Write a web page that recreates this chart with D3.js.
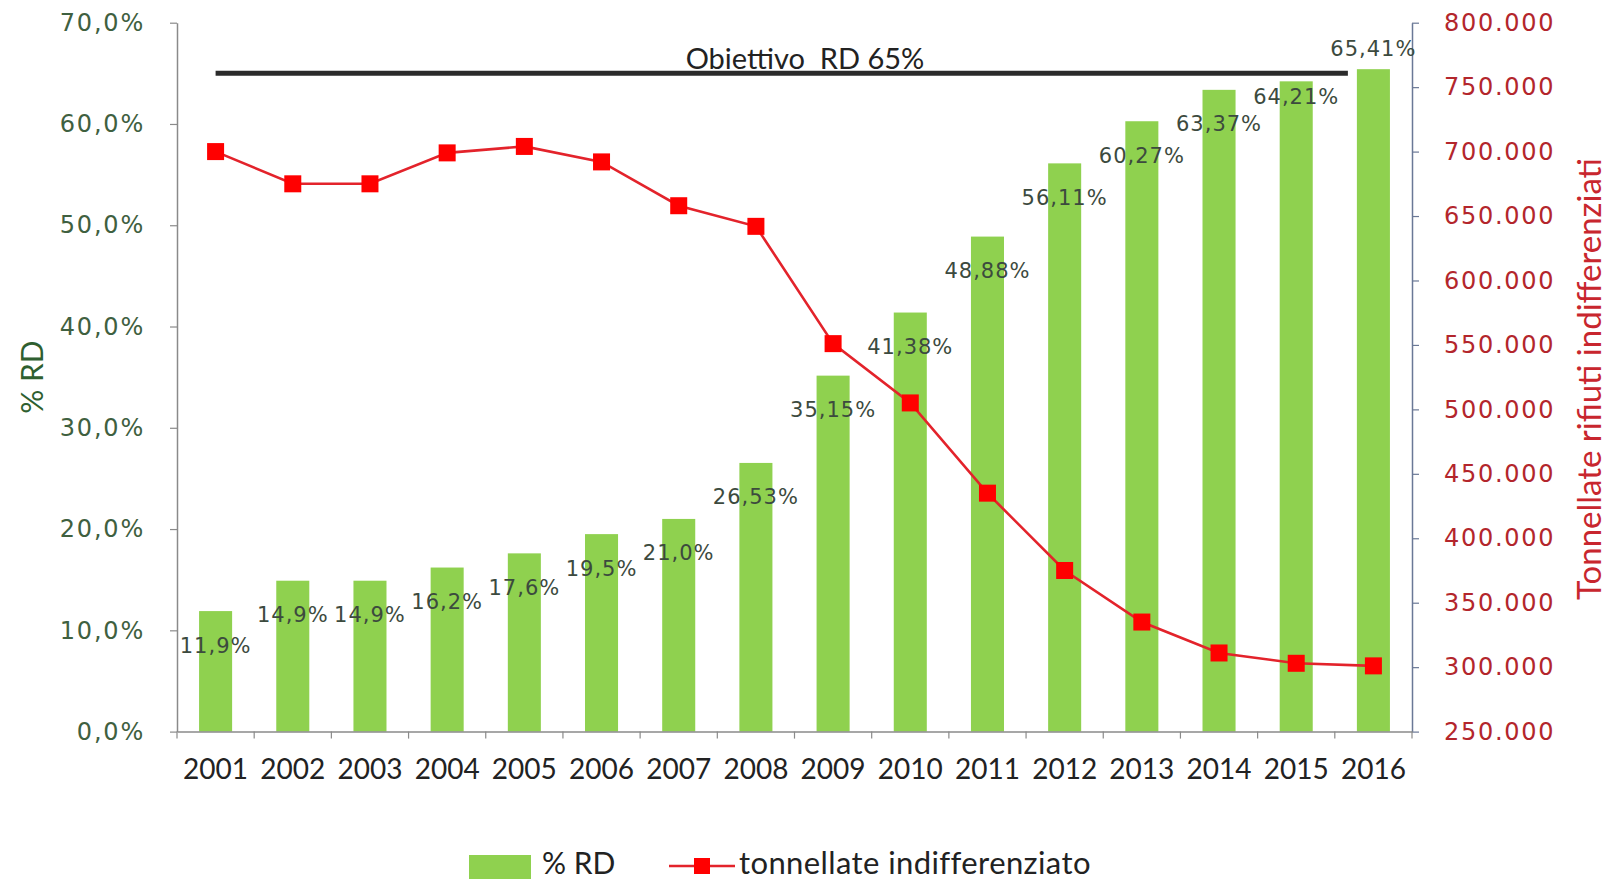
<!DOCTYPE html>
<html>
<head>
<meta charset="utf-8">
<script src="https://cdn.jsdelivr.net/npm/d3@7"></script>
<style>
  html, body { margin: 0; padding: 0; background: #ffffff; }
  svg { display: block; }
</style>
</head>
<body>
<svg id="chart" width="1618" height="882"></svg>
<script>
// Raccolta differenziata: % RD (bars, left axis) and unsorted waste tonnes (line, right axis)
const years = ["2001","2002","2003","2004","2005","2006","2007","2008",
               "2009","2010","2011","2012","2013","2014","2015","2016"];
const pctRD = [11.9, 14.9, 14.9, 16.2, 17.6, 19.5, 21.0, 26.53,
               35.15, 41.38, 48.88, 56.11, 60.27, 63.37, 64.21, 65.41];
const pctDecimals = [1, 1, 1, 1, 1, 1, 1, 2, 2, 2, 2, 2, 2, 2, 2, 2];
const tonsUnsorted = [700000, 675000, 675000, 699000, 704000, 692000, 658000, 642000,
                      551000, 505000, 435000, 375000, 335000, 311000, 303000, 301000];
const targetRD = 65;
const targetLabel = "Obiettivo  RD 65%";
const leftTicks = [0, 10, 20, 30, 40, 50, 60, 70];
const rightTicks = [250000, 300000, 350000, 400000, 450000, 500000, 550000, 600000,
                    650000, 700000, 750000, 800000];
const leftTitle = "% RD";
const rightTitle = "Tonnellate rifiuti indifferenziati";
const legendBar = "% RD";
const legendLine = "tonnellate indifferenziato";

// Italian number formatting: comma decimals, dot thousands
const it = d3.formatLocale({ decimal: ",", thousands: ".", grouping: [3], currency: ["€", ""] });

const svg = d3.select("#chart");
const plot = { left: 177, right: 1412, top: 22.7, bottom: 731.6 };

const x = d3.scaleBand()
  .domain(years)
  .range([plot.left, plot.right])
  .paddingInner(0.572)
  .paddingOuter(0.286);
const step = x.step();

const yL = d3.scaleLinear().domain([0, 70]).range([plot.bottom, plot.top]);
const yR = d3.scaleLinear().domain([250000, 800000]).range([plot.bottom, plot.top]);

// Bars
svg.append("g")
  .selectAll("rect")
  .data(years)
  .join("rect")
  .attr("x", d => x(d))
  .attr("y", (d, i) => yL(pctRD[i]))
  .attr("width", x.bandwidth())
  .attr("height", (d, i) => yL(0) - yL(pctRD[i]))
  .attr("fill", "#8fd14f");

// Left axis
const gL = svg.append("g")
  .attr("transform", `translate(${plot.left},0)`)
  .call(d3.axisLeft(yL)
    .tickValues(leftTicks)
    .tickSize(7)
    .tickSizeOuter(0)
    .tickPadding(25)
    .tickFormat(d => it.format(".1f")(d) + "%"));
gL.select(".domain").attr("stroke", "#8a8a8a").attr("stroke-width", 1.5);
gL.selectAll(".tick line").attr("stroke", "#8a8a8a").attr("stroke-width", 1.2);
gL.selectAll(".tick text")
  .attr("font-family", "'DejaVu Sans', sans-serif")
  .attr("font-size", 24)
  .attr("letter-spacing", 1.8)
  .attr("fill", "#3f6040");

// Right axis
const gR = svg.append("g")
  .attr("transform", `translate(${plot.right},0)`)
  .call(d3.axisRight(yR)
    .tickValues(rightTicks)
    .tickSize(7)
    .tickSizeOuter(0)
    .tickPadding(25)
    .tickFormat(it.format(",")));
gR.select(".domain").attr("stroke", "#6a7896").attr("stroke-width", 1.5);
gR.selectAll(".tick line").attr("stroke", "#6a7896").attr("stroke-width", 1.2);
gR.selectAll(".tick text")
  .attr("font-family", "'DejaVu Sans', sans-serif")
  .attr("font-size", 24)
  .attr("letter-spacing", 1.7)
  .attr("fill", "#b3262c");

// Bottom axis: labels at category centres, ticks on category boundaries
const gB = svg.append("g")
  .attr("transform", `translate(0,${plot.bottom})`)
  .call(d3.axisBottom(x).tickSize(0).tickPadding(28).tickSizeOuter(0));
gB.select(".domain").attr("stroke", "#8a8a8a").attr("stroke-width", 1.5);
gB.selectAll(".tick text")
  .attr("font-family", "Lato, sans-serif")
  .attr("font-size", 28)
  .attr("fill", "#222222");
const boundaries = years.map(d => x(d) - x.paddingInner() * step / 2).concat([plot.right]);
gB.selectAll(".bound")
  .data(boundaries)
  .join("line")
  .attr("class", "bound")
  .attr("x1", d => d).attr("x2", d => d)
  .attr("y1", 0).attr("y2", 7)
  .attr("stroke", "#8a8a8a").attr("stroke-width", 1.2);

// Target line at 65%
const targetStart = x(years[0]) + x.bandwidth() / 2;
const targetEnd = x(years[years.length - 1]) - 9;
svg.append("line")
  .attr("x1", targetStart).attr("x2", targetEnd)
  .attr("y1", yL(targetRD)).attr("y2", yL(targetRD))
  .attr("stroke", "#2b2b2b").attr("stroke-width", 5);
svg.append("text")
  .attr("x", 805).attr("y", yL(targetRD) - 4)
  .attr("text-anchor", "middle")
  .attr("font-family", "Lato, sans-serif")
  .attr("font-size", 29)
  .attr("fill", "#222222")
  .attr("xml:space", "preserve")
  .style("white-space", "pre")
  .text(targetLabel);

// Bar value labels (last two sit higher so they clear the target line)
const labelNudge = { "2015": -19, "2016": -55 };
svg.append("g")
  .selectAll("text")
  .data(years)
  .join("text")
  .attr("x", d => x(d) + x.bandwidth() / 2)
  .attr("y", (d, i) => yL(pctRD[i]) + 34 + (labelNudge[d] || 0))
  .attr("dy", "0.36em")
  .attr("text-anchor", "middle")
  .attr("font-family", "'DejaVu Sans', sans-serif")
  .attr("font-size", 21)
  .attr("letter-spacing", 1)
  .attr("fill", "#3c4a3e")
  .text((d, i) => it.format("." + pctDecimals[i] + "f")(pctRD[i]) + "%");

// Unsorted tonnes line with square markers
const cx = d => x(d) + x.bandwidth() / 2;
svg.append("path")
  .datum(years)
  .attr("fill", "none")
  .attr("stroke", "#e3232b")
  .attr("stroke-width", 2.6)
  .attr("d", d3.line().x(d => cx(d)).y((d, i) => yR(tonsUnsorted[i])));
const sq = 17;
svg.append("g")
  .selectAll("rect")
  .data(years)
  .join("rect")
  .attr("x", d => cx(d) - sq / 2)
  .attr("y", (d, i) => yR(tonsUnsorted[i]) - sq / 2)
  .attr("width", sq).attr("height", sq)
  .attr("fill", "#ff0000");

// Axis titles
svg.append("text")
  .attr("transform", `translate(32,377) rotate(-90)`)
  .attr("text-anchor", "middle")
  .attr("dy", "0.35em")
  .attr("font-family", "Lato, sans-serif")
  .attr("font-size", 30)
  .attr("fill", "#2f5f30")
  .text(leftTitle);
svg.append("text")
  .attr("transform", `translate(1589,379) rotate(-90)`)
  .attr("text-anchor", "middle")
  .attr("dy", "0.35em")
  .attr("font-family", "Lato, sans-serif")
  .attr("font-size", 33)
  .attr("fill", "#c8262e")
  .text(rightTitle);

// Legend
const lg = svg.append("g");
lg.append("rect")
  .attr("x", 469).attr("y", 855).attr("width", 62).attr("height", 24)
  .attr("fill", "#8fd14f");
lg.append("text")
  .attr("x", 542).attr("y", 874)
  .attr("font-family", "Lato, sans-serif").attr("font-size", 30)
  .attr("fill", "#222222")
  .text(legendBar);
lg.append("line")
  .attr("x1", 669).attr("x2", 735).attr("y1", 866).attr("y2", 866)
  .attr("stroke", "#e3232b").attr("stroke-width", 2.6);
lg.append("rect")
  .attr("x", 702 - 8).attr("y", 866 - 8).attr("width", 16).attr("height", 16)
  .attr("fill", "#ff0000");
lg.append("text")
  .attr("x", 739).attr("y", 874)
  .attr("font-family", "Lato, sans-serif").attr("font-size", 31)
  .attr("fill", "#222222")
  .attr("letter-spacing", 0.4)
  .text(legendLine);
</script>
</body>
</html>
